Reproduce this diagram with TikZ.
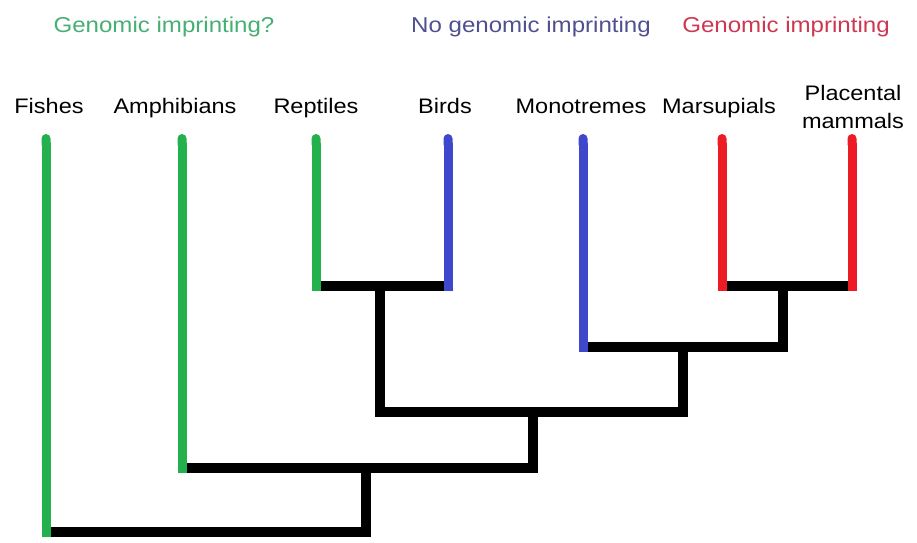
\documentclass[tikz,border=0pt]{standalone}
\usepackage{fontspec}
\setmainfont{Liberation Sans}
\newfontfamily\lblfont[FakeStretch=1.12]{Liberation Sans}
\usetikzlibrary{arrows.meta}
\definecolor{cladeGreen}{RGB}{34,177,76}
\definecolor{cladeBlue}{RGB}{63,72,204}
\definecolor{cladeRed}{RGB}{237,28,36}
\definecolor{headGreen}{RGB}{70,175,115}
\definecolor{headBlue}{RGB}{80,80,145}
\definecolor{headRed}{RGB}{205,55,80}
\tikzset{
  taxon/.style={font=\lblfont\fontsize{21}{27.5}\selectfont, text=black, inner sep=0pt, anchor=base, align=center},
  header/.style={font=\lblfont\fontsize{21.5}{26}\selectfont, inner sep=0pt, anchor=base},
  branch/.style={line width=9.5pt, line cap=butt, line join=miter, black},
  leaf/.style={line width=9pt, line cap=butt, {Round Cap[]}-, shorten >=-4.75pt, draw=#1},
}
\begin{document}
\begin{tikzpicture}[x=1pt, y=-1pt]
  \useasboundingbox (0,0) rectangle (917,542);

  % group headings
  \node[header, text=headGreen] (hGreen) at (164,32) {Genomic imprinting?};
  \node[header, text=headBlue]  (hBlue)  at (531,32) {No genomic imprinting};
  \node[header, text=headRed]   (hRed)   at (786,32) {Genomic imprinting};

  % taxon names (multi-line nodes sit on the baseline of their last line)
  \node[taxon] (lF)  at (49,113)  {Fishes};
  \node[taxon] (lA)  at (175,113) {Amphibians};
  \node[taxon] (lR)  at (316,113) {Reptiles};
  \node[taxon] (lB)  at (445,113) {Birds};
  \node[taxon] (lMo) at (581,113) {Monotremes};
  \node[taxon] (lMa) at (719,113) {Marsupials};
  \node[taxon] (lP)  at (853,128) {Placental\\mammals};

  % branch tips
  \coordinate (tF)  at (46,134);
  \coordinate (tA)  at (182,134);
  \coordinate (tR)  at (316,134);
  \coordinate (tB)  at (448,134);
  \coordinate (tMo) at (583,134);
  \coordinate (tMa) at (722,134);
  \coordinate (tP)  at (852,134);

  % internal nodes (stem foot on the parent bar)
  \coordinate (jRB)   at (380,286);
  \coordinate (jMP)   at (783,286);
  \coordinate (jMam)  at (683,347);
  \coordinate (jAmn)  at (533,412);
  \coordinate (jTet)  at (366,468);
  \coordinate (jRoot) at (206,532);

  % black branches
  \draw[branch] (tR |- jRB) -- (tB |- jRB);
  \draw[branch] (tMa |- jMP) -- (tP |- jMP);
  \draw[branch] (tMo |- jMam) -- (jMP |- jMam) -- (jMP);
  \draw[branch] (jRB) -- (jRB |- jAmn) -- (jMam |- jAmn) -- (jMam);
  \draw[branch] (tA |- jTet) -- (jAmn |- jTet) -- (jAmn);
  \draw[branch] (tF |- jRoot) -- (jTet |- jRoot) -- (jTet);

  % coloured terminal branches
  \draw[leaf=cladeGreen] (tF)  -- (tF |- jRoot);
  \draw[leaf=cladeGreen] (tA)  -- (tA |- jTet);
  \draw[leaf=cladeGreen] (tR)  -- (tR |- jRB);
  \draw[leaf=cladeBlue]  (tB)  -- (tB |- jRB);
  \draw[leaf=cladeBlue]  (tMo) -- (tMo |- jMam);
  \draw[leaf=cladeRed]   (tMa) -- (tMa |- jMP);
  \draw[leaf=cladeRed]   (tP)  -- (tP |- jMP);
\end{tikzpicture}
\end{document}
